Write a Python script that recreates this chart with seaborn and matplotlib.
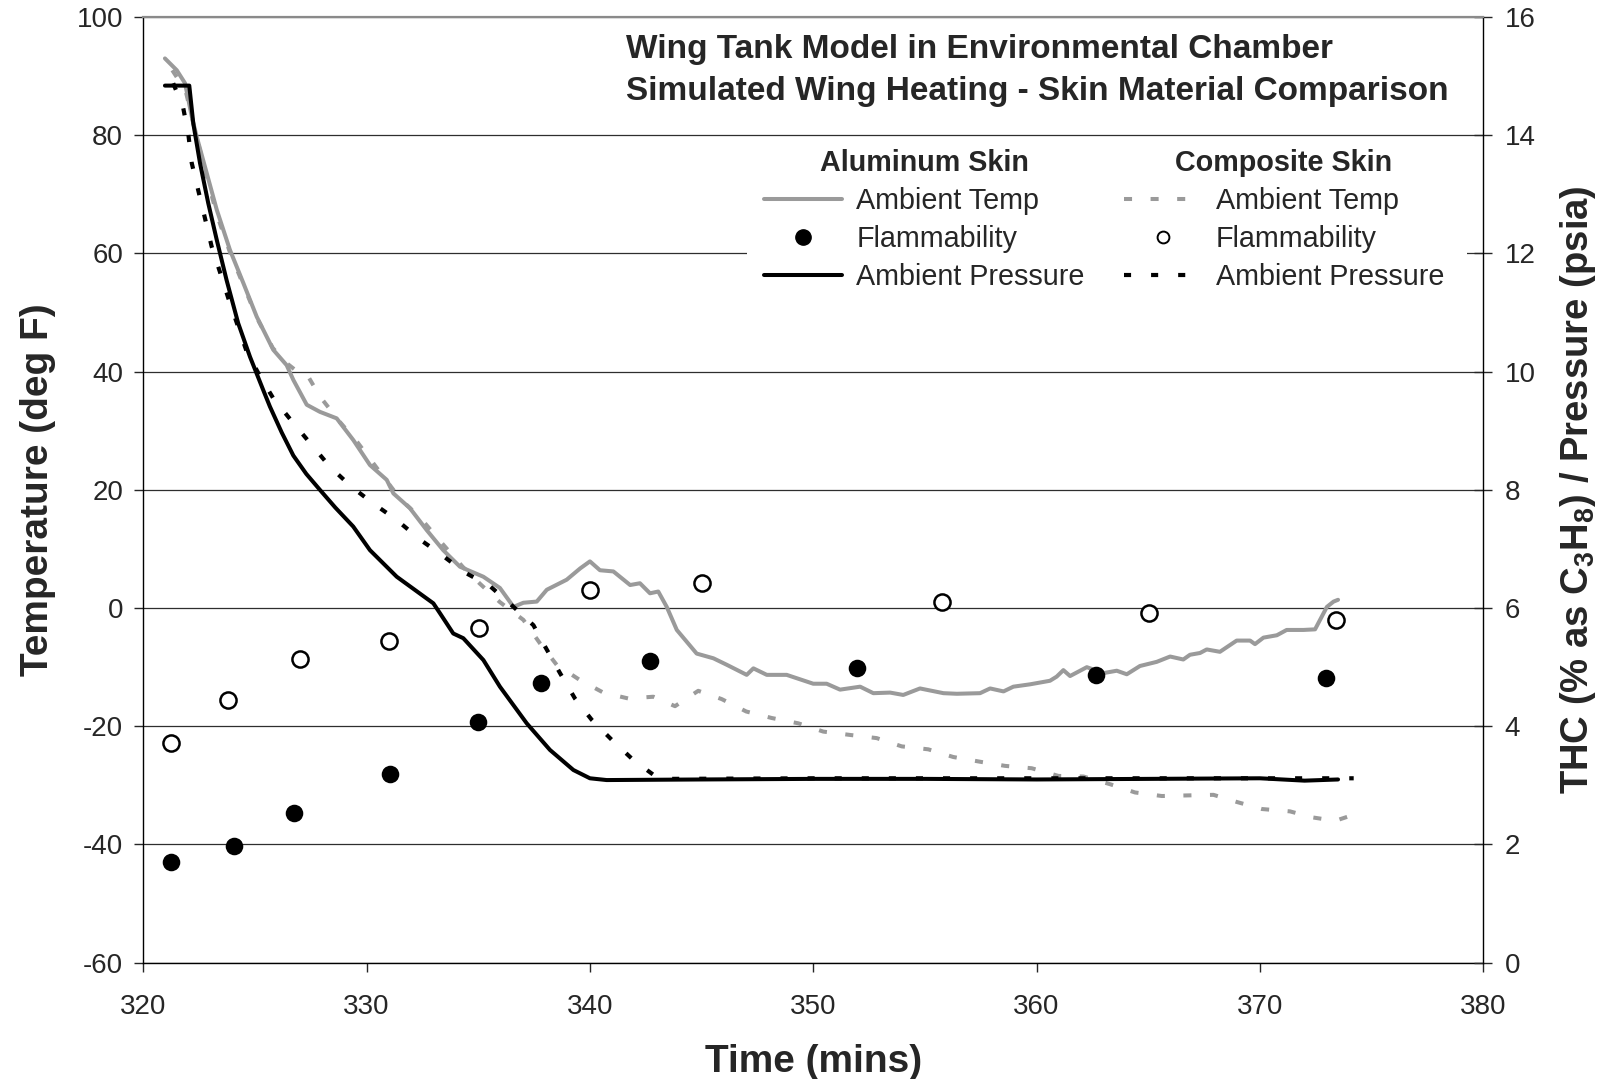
import matplotlib
matplotlib.use('Agg')
import matplotlib.pyplot as plt
import seaborn as sns
from matplotlib.lines import Line2D
from matplotlib.patches import Rectangle

# Aluminum skin - ambient temperature (deg F)
al_temp_t = [320.97, 321.5, 321.87, 322.17, 322.39, 322.84, 323.29, 323.88, 324.48, 325.08,
             325.82, 326.42, 326.72, 327.32, 327.91, 328.66, 329.41, 330.15, 330.9, 331.2,
             331.94, 332.69, 333.43, 334.18, 335.23, 335.97, 336.58, 337.02, 337.62, 338.07,
             338.96, 339.56, 340.0, 340.45, 341.05, 341.8, 342.24, 342.69, 343.06, 343.44,
             343.89, 344.78, 345.53, 346.13, 347.02, 347.32, 347.92, 348.81, 350.0, 350.6,
             351.2, 352.1, 352.69, 353.44, 354.03, 354.78, 355.83, 356.43, 357.47, 357.92,
             358.52, 358.96, 359.71, 360.6, 360.9, 361.2, 361.5, 362.25, 363.0, 363.59,
             364.04, 364.63, 365.38, 365.98, 366.57, 366.87, 367.32, 367.62, 368.21, 368.96,
             369.56, 369.78, 370.16, 370.76, 371.2, 371.95, 372.47, 373.0, 373.3, 373.5]
al_temp = [93.0, 91.0, 88.8, 83.2, 79.8, 73.6, 67.4, 60.6, 55.0, 49.3,
           43.7, 41.1, 38.6, 34.4, 33.2, 32.1, 28.4, 24.2, 21.7, 19.4,
           16.9, 13.2, 9.8, 7.0, 5.3, 3.4, 0.2, 0.9, 1.1, 3.1,
           4.8, 6.7, 7.9, 6.4, 6.2, 3.9, 4.2, 2.5, 2.8, 0.2,
           -3.7, -7.7, -8.5, -9.6, -11.3, -10.2, -11.3, -11.3, -12.8, -12.8,
           -13.8, -13.3, -14.4, -14.3, -14.7, -13.6, -14.4, -14.5, -14.4, -13.6,
           -14.1, -13.3, -12.9, -12.3, -11.6, -10.5, -11.5, -10.0, -11.0, -10.6,
           -11.2, -9.8, -9.1, -8.2, -8.7, -7.9, -7.6, -7.0, -7.4, -5.5,
           -5.5, -6.1, -5.0, -4.6, -3.7, -3.7, -3.6, 0.2, 1.1, 1.4]

# Composite skin - ambient temperature (deg F)
comp_temp_t = [321.3, 321.9, 322.3, 322.8, 323.3, 323.9, 324.5, 325.1, 325.8, 326.4,
               326.9, 327.35, 327.91, 328.8, 329.6, 330.5, 331.5, 332.4, 333.3, 334.3,
               335.08, 335.97, 337.02, 337.77, 338.51, 339.56, 340.6, 341.72, 342.84, 343.81,
               344.85, 345.9, 347.0, 348.14, 349.33, 350.45, 351.72, 352.84, 353.96, 355.15,
               356.27, 357.47, 358.59, 359.78, 360.98, 362.1, 363.29, 364.41, 365.61, 366.73,
               367.92, 368.96, 370.09, 371.35, 372.32, 373.37, 374.41]
comp_temp = [91.0, 87.5, 81.0, 73.5, 66.5, 60.0, 54.5, 49.0, 44.0, 41.5,
             40.0, 39.4, 35.8, 31.5, 28.0, 23.5, 18.5, 15.3, 11.3, 7.0,
             4.1, 1.0, -2.0, -6.0, -9.6, -12.2, -14.3, -15.3, -15.0, -16.6,
             -14.0, -15.4, -17.5, -18.6, -19.5, -20.9, -21.5, -22.0, -23.4, -23.9,
             -25.2, -26.0, -26.7, -27.1, -28.4, -28.5, -29.8, -31.2, -31.8, -31.7,
             -31.6, -32.8, -34.0, -34.4, -35.4, -36.0, -34.7]

# Aluminum skin - ambient pressure (psia)
al_pres_t = [320.97, 322.06, 322.24, 322.54, 322.91, 323.29, 323.73, 324.25, 324.78, 325.37,
             325.67, 326.2, 326.72, 327.3, 327.91, 328.6, 329.4, 330.15, 331.35, 332.99,
             333.29, 333.88, 334.33, 335.23, 335.97, 337.17, 338.21, 339.26, 340.0, 340.75,
             345.0, 350.0, 355.0, 360.0, 365.0, 370.0, 372.0, 373.5]
al_pres = [14.84, 14.84, 14.20, 13.53, 12.85, 12.23, 11.55, 10.82, 10.25, 9.69,
           9.41, 8.97, 8.58, 8.27, 8.00, 7.70, 7.38, 6.98, 6.53, 6.08,
           5.91, 5.57, 5.49, 5.12, 4.67, 4.05, 3.60, 3.26, 3.12, 3.09,
           3.10, 3.11, 3.11, 3.10, 3.11, 3.12, 3.08, 3.10]

# Composite skin - ambient pressure (psia)
comp_pres_t = [321.34, 321.79, 322.02, 322.17, 322.46, 322.76, 323.06, 323.43, 323.81, 324.63,
               325.23, 325.82, 326.72, 327.54, 328.36, 329.33, 330.3, 331.35, 332.39, 333.36,
               334.41, 335.53, 336.58, 337.47, 337.99, 338.66, 339.33, 340.08, 340.98, 341.94,
               342.84, 343.5, 350.0, 360.0, 370.0, 374.2]
comp_pres = [14.88, 14.46, 14.01, 13.53, 13.07, 12.60, 12.12, 11.69, 11.24, 10.34,
             9.92, 9.55, 9.13, 8.76, 8.39, 8.05, 7.77, 7.49, 7.16, 6.90,
             6.60, 6.37, 6.02, 5.71, 5.35, 4.90, 4.47, 4.11, 3.77, 3.43,
             3.18, 3.11, 3.12, 3.12, 3.12, 3.12]

# Flammability (THC % as C3H8)
al_flam_t = [321.25, 324.05, 326.77, 331.03, 334.99, 337.79, 342.7, 351.98, 362.68, 372.97]
al_flam = [1.71, 1.97, 2.54, 3.20, 4.07, 4.73, 5.10, 4.98, 4.87, 4.82]
comp_flam_t = [321.26, 323.79, 327.04, 330.99, 335.04, 339.99, 345.0, 355.75, 365.02, 373.43]
comp_flam = [3.72, 4.44, 5.13, 5.44, 5.67, 6.31, 6.43, 6.10, 5.91, 5.79]

GRAY = '#9a9a9a'
GRAY_DASH = (0, (2.0, 4.6))
BLACK_DASH = (0, (1.7, 4.8))
LW = 2.9


def main():
    sns.set_style('white')
    plt.rcParams['font.family'] = ['Liberation Sans', 'DejaVu Sans']
    plt.rcParams['mathtext.fontset'] = 'custom'
    plt.rcParams['mathtext.rm'] = 'Liberation Sans:bold'
    plt.rcParams['mathtext.default'] = 'rm'
    plt.rcParams['axes.unicode_minus'] = False

    fig = plt.figure(figsize=(16.08, 10.79), dpi=100)
    ax = fig.add_axes([0.0891, 0.1078, 0.8333, 0.8764])
    ax2 = ax.twinx()

    # temperatures on left axis
    sns.lineplot(x=al_temp_t, y=al_temp, ax=ax, color=GRAY, linewidth=LW,
                 sort=False, estimator=None)
    sns.lineplot(x=comp_temp_t, y=comp_temp, ax=ax, color=GRAY, linewidth=LW,
                 linestyle=GRAY_DASH, sort=False, estimator=None)

    # pressure + flammability on right axis
    sns.lineplot(x=al_pres_t, y=al_pres, ax=ax2, color='black', linewidth=LW,
                 sort=False, estimator=None)
    sns.lineplot(x=comp_pres_t, y=comp_pres, ax=ax2, color='black', linewidth=3.0,
                 linestyle=BLACK_DASH, sort=False, estimator=None)
    sns.scatterplot(x=al_flam_t, y=al_flam, ax=ax2, color='black', s=160,
                    edgecolor='black', linewidth=0, zorder=5)
    sns.scatterplot(x=comp_flam_t, y=comp_flam, ax=ax2, facecolor='white', s=135,
                    edgecolor='black', linewidth=1.8, zorder=5)

    ax.set_xlim(320, 380)
    ax.set_ylim(-60, 100)
    ax2.set_ylim(0, 16)
    ax.set_xticks(range(320, 381, 10))
    ax.set_yticks(range(-60, 101, 20))
    ax2.set_yticks(range(0, 17, 2))

    ax.yaxis.grid(True, color='#2e2e2e', linewidth=0.9)
    ax.set_axisbelow(True)
    for s in ['left', 'bottom']:
        ax.spines[s].set_color('black')
        ax.spines[s].set_linewidth(1.0)
    ax2.spines['right'].set_color('black')
    ax2.spines['right'].set_linewidth(1.0)
    ax2.spines['top'].set_color('#8a8a8a')
    ax2.spines['top'].set_linewidth(1.6)
    ax.spines['top'].set_visible(False)
    ax.spines['right'].set_visible(False)
    ax2.spines['left'].set_visible(False)
    ax2.spines['bottom'].set_visible(False)

    ax.tick_params(axis='y', direction='out', length=6.5, width=1, pad=8,
                   labelsize=20, left=True)
    ax.tick_params(axis='x', direction='out', length=6.5, width=1, pad=16,
                   labelsize=20, bottom=True)
    ax2.tick_params(axis='y', direction='inout', length=13, width=1, pad=9,
                    labelsize=20, right=True)

    ax.set_xlabel('Time (mins)', fontsize=28, fontweight='bold', labelpad=17)
    ax.set_ylabel('Temperature (deg F)', fontsize=28, fontweight='bold', labelpad=15)
    ax2.set_ylabel('THC (% as C$_3$H$_8$) / Pressure (psia)', fontsize=27.5,
                   fontweight='bold', labelpad=16)

    fig.text(0.3894, 0.9346, 'Wing Tank Model in Environmental Chamber\n'
             'Simulated Wing Heating - Skin Material Comparison',
             fontsize=24, fontweight='bold', ha='left', va='center', linespacing=1.45)

    # white panel behind the legend block (hides the 60 deg gridline there)
    ax2.add_patch(Rectangle((0.4505, 0.71), 0.5375, 0.155, transform=ax2.transAxes,
                            facecolor='white', edgecolor='none', zorder=3))

    # legends (two columns with headers)
    al_handles = [Line2D([], [], color=GRAY, lw=LW),
                  Line2D([], [], color='black', marker='o', ls='none', markersize=11),
                  Line2D([], [], color='black', lw=LW)]
    comp_handles = [Line2D([], [], color=GRAY, lw=LW, ls=GRAY_DASH),
                    Line2D([], [], color='black', marker='o', ls='none', markersize=8.5,
                           markerfacecolor='white', markeredgewidth=1.4),
                    Line2D([], [], color='black', lw=3.0, ls=BLACK_DASH)]
    labels = ['Ambient Temp', 'Flammability', 'Ambient Pressure']
    common = dict(loc='center', fontsize=20.7, title_fontsize=20.7, frameon=False,
                  handlelength=2.7, handletextpad=0.5, labelspacing=0.35,
                  borderpad=0.4)
    leg1 = ax2.legend(al_handles, labels, title='Aluminum Skin',
                      bbox_to_anchor=(0.583, 0.7855), **common)
    leg1.get_title().set_fontweight('bold')
    leg1.set_zorder(6)
    ax2.add_artist(leg1)
    leg2 = ax2.legend(comp_handles, labels, title='Composite Skin',
                      bbox_to_anchor=(0.8513, 0.7855), **common)
    leg2.get_title().set_fontweight('bold')
    leg2.set_zorder(6)

    fig.savefig('out.png', dpi=100)
    plt.close(fig)


if __name__ == '__main__':
    main()
